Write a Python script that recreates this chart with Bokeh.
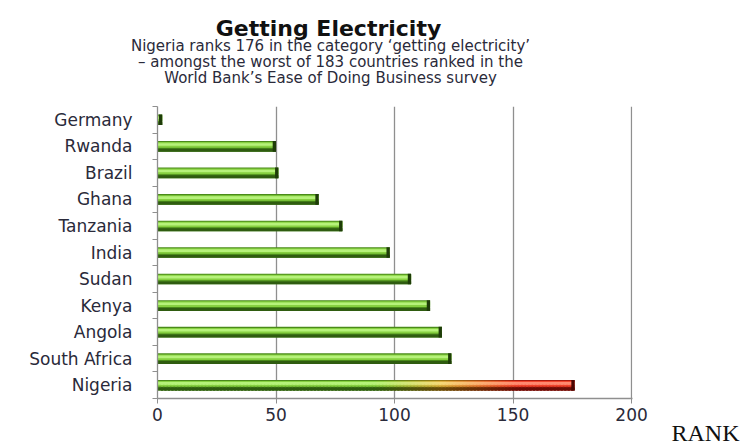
from bokeh.plotting import figure
from bokeh.models import ColumnDataSource, Range1d, FixedTicker
from bokeh.layouts import column, row
from bokeh.core.properties import value
from bokeh.embed import file_html
from bokeh.resources import INLINE

# ---------------- data ----------------
countries = ["Germany", "Rwanda", "Brazil", "Ghana", "Tanzania", "India",
             "Sudan", "Kenya", "Angola", "South Africa", "Nigeria"]
ranks = [2, 50, 51, 68, 78, 98, 107, 115, 120, 124, 176]
highlighted = ["Nigeria"]
x_ticks = [0, 50, 100, 150, 200]
title_text = "Getting Electricity"
subtitle_lines = [
    "Nigeria ranks 176 in the category \u2018getting electricity\u2019",
    "\u2013 amongst the worst of 183 countries ranked in the",
    "World Bank\u2019s Ease of Doing Business survey",
]
axis_label = "RANK"

# ---------------- styling helpers ----------------
def h2r(h):
    h = h.lstrip("#")
    return tuple(int(h[i:i + 2], 16) for i in (0, 2, 4))

def r2h(c):
    return "#%02x%02x%02x" % tuple(int(round(v)) for v in c)

def mix(a, b, t):
    a, b = h2r(a), h2r(b)
    return r2h(tuple(a[i] + (b[i] - a[i]) * t for i in range(3)))

# (bottom offset, top offset, green, amber, red)
layers = [
    (-0.20, 0.20, "#4a8a1a", "#9a7a14", "#a81a0e"),
    (-0.20, -0.09, "#2f5c10", "#6a4a0a", "#6a0c06"),
    (-0.05, 0.16, "#86d040", "#dcb040", "#f0442c"),
    (0.02, 0.12, "#b6f27a", "#f5d878", "#ff8a70"),
]

def grad_color(g, a, r, t):
    if t <= 0.52:
        return g
    if t <= 0.68:
        return mix(g, a, (t - 0.52) / 0.16)
    if t <= 0.86:
        return mix(a, r, (t - 0.68) / 0.18)
    return r

n = len(countries)
ypos = [n - 1 - i for i in range(n)]

L, R, B, T, C = [], [], [], [], []
for c, v, y in zip(countries, ranks, ypos):
    hl = c in highlighted
    for lo, hi, g, a, r in layers:
        if not hl:
            L.append(0); R.append(v); B.append(y + lo); T.append(y + hi); C.append(g)
        else:
            N = 120
            step = v / N
            for k in range(N):
                left = k * step
                right = min(v, left + step * 1.6)
                t = (k + 0.5) / N
                L.append(left); R.append(right); B.append(y + lo); T.append(y + hi)
                C.append(grad_color(g, a, r, t))
    # dark end cap
    L.append(max(0, v - 1.4)); R.append(v); B.append(y - 0.20); T.append(y + 0.20)
    C.append("#4a0603" if hl else "#1e3c08")

src = ColumnDataSource(dict(left=L, right=R, bottom=B, top=T, color=C))

TXT = "#2a2a3a"

def text_fig(w, h):
    f = figure(width=w, height=h, x_range=Range1d(0, w), y_range=Range1d(h, 0),
               x_axis_type=None, y_axis_type=None, min_border=0,
               output_backend="svg", toolbar_location=None, frame_align=False)
    f.outline_line_color = None
    f.grid.visible = False
    f.background_fill_color = "white"
    f.border_fill_color = "white"
    return f

# ---------------- header ----------------
head = text_fig(742, 106)
head.text(x=[328], y=[28], text=[title_text], text_align="center",
          text_baseline="alphabetic", text_font=value("DejaVu Sans"),
          text_font_style="bold", text_font_size="22px", text_color="#111111")
head.text(x=[330] * len(subtitle_lines), y=[45 + 16 * i for i in range(len(subtitle_lines))],
          text=subtitle_lines, text_align="center", text_baseline="alphabetic",
          text_font=value("DejaVu Sans"), text_font_size="15px", text_color=TXT)

# ---------------- main chart ----------------
p = figure(width=670, height=338,
           x_range=Range1d(0, 200.4), y_range=Range1d(-0.5, n - 0.5),
           output_backend="svg", toolbar_location=None, frame_align=False,
           min_border_left=157, min_border_right=38,
           min_border_top=0, min_border_bottom=46)
p.outline_line_color = None
p.background_fill_color = "white"
p.border_fill_color = "white"

p.quad(left="left", right="right", bottom="bottom", top="top",
       fill_color="color", line_color=None, source=src)

p.ygrid.visible = False
p.xgrid.ticker = FixedTicker(ticks=x_ticks[1:])
p.xgrid.grid_line_color = "#8f8f8f"
p.xgrid.grid_line_width = 1.3

xa = p.xaxis[0]
xa.ticker = FixedTicker(ticks=x_ticks)
xa.axis_line_color = "#8f8f8f"
xa.axis_line_width = 1.3
xa.major_tick_line_color = "#8f8f8f"
xa.major_tick_out = 5
xa.major_tick_in = 0
xa.minor_tick_line_color = None
xa.major_label_standoff = 4
xa.major_label_text_font = "DejaVu Sans"
xa.major_label_text_font_size = "17px"
xa.major_label_text_color = TXT

ya = p.yaxis[0]
ya.ticker = FixedTicker(ticks=ypos, minor_ticks=[i - 0.5 for i in range(n + 1)])
ya.major_label_overrides = {y: c for y, c in zip(ypos, countries)}
ya.axis_line_color = "#8f8f8f"
ya.axis_line_width = 1.3
ya.major_tick_line_color = None
ya.major_tick_out = 0
ya.major_tick_in = 0
ya.minor_tick_line_color = "#8f8f8f"
ya.minor_tick_out = 5
ya.minor_tick_in = 0
ya.major_label_standoff = 20
ya.major_label_text_font = "DejaVu Sans"
ya.major_label_text_font_size = "17px"
ya.major_label_text_color = TXT

# ---------------- RANK label panel ----------------
side = text_fig(72, 338)
side.text(x=[1], y=[326], text=[axis_label], text_align="left",
          text_baseline="alphabetic", text_font=value("Liberation Serif"),
          text_font_size="24px", text_color="#111111")

layout = column(head, row(p, side, spacing=0), spacing=0)
open("out.html", "w").write(file_html(layout, INLINE))
